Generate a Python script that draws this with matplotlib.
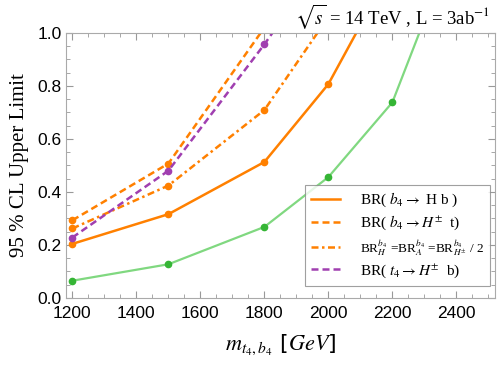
import numpy as np
import matplotlib
matplotlib.use("Agg")
import matplotlib.pyplot as plt
from matplotlib.ticker import MultipleLocator

plt.rcParams['mathtext.fontset'] = 'stix'

# masses (GeV)
mass = [1200, 1500, 1800, 2000, 2200, 2400]

# 95% CL upper limits
lim_green = [0.065, 0.127, 0.268, 0.456, 0.738, 1.36]
lim_hb = [0.204, 0.316, 0.513, 0.807, 1.25]
lim_ht = [0.293, 0.507, 1.02]
lim_equal = [0.262, 0.424, 0.709, 1.06]
lim_t4 = [0.228, 0.48, 0.957, 1.3]

labels = [r"BR( $b_4 \rightarrow$ H b )",
          r"BR( $b_4 \rightarrow H^{\pm}$  t)",
          r"BR$^{b_4}_{H}$ =BR$^{b_4}_{A}$ =BR$^{b_4}_{H^{\pm}}$ / 2",
          r"BR( $t_4 \rightarrow H^{\pm}$  b)"]

orange = '#ff8000'
purple = '#a03fb0'
green_line = '#80d880'
green_pt = '#35b535'

dashed = (0, (2.8, 1.6))
dashdot = (0, (2.8, 1.4, 1.0, 1.4))

fig = plt.figure(figsize=(4.98, 3.66), dpi=100)
ax = fig.add_axes([0.1325, 0.186, 0.861, 0.724])

ax.plot(mass[:len(lim_green)], lim_green, color=green_line, lw=1.6, zorder=2)
ax.plot(mass[:len(lim_green)], lim_green, 'o', color=green_pt, ms=4.5, zorder=3)

ax.plot(mass[:len(lim_hb)], lim_hb, color=orange, lw=1.8, marker='o', ms=4.5, label=labels[0])
ax.plot(mass[:len(lim_ht)], lim_ht, color=orange, lw=1.8, ls=dashed, marker='o', ms=4.5, label=labels[1])
ax.plot(mass[:len(lim_equal)], lim_equal, color=orange, lw=1.8, ls=dashdot, marker='o', ms=4.5, label=labels[2])
ax.plot(mass[:len(lim_t4)], lim_t4, color=purple, lw=1.8, ls=dashed, marker='o', ms=4.5, label=labels[3])

ax.set_xlim(1180, 2520)
ax.set_ylim(0, 1.0)
ax.xaxis.set_major_locator(MultipleLocator(200))
ax.xaxis.set_minor_locator(MultipleLocator(50))
ax.yaxis.set_major_locator(MultipleLocator(0.2))
ax.yaxis.set_minor_locator(MultipleLocator(0.05))
ax.yaxis.set_major_formatter(matplotlib.ticker.FormatStrFormatter('%.1f'))

for s in ax.spines.values():
    s.set_color('#aaaaaa')
ax.tick_params(which='both', direction='in', top=True, right=True, color='#999999')
ax.tick_params(which='major', length=5, labelsize=12.5)
ax.tick_params(axis='x', which='major', pad=6)
ax.tick_params(axis='y', which='major', pad=3)
ax.tick_params(which='minor', length=3)
for t in ax.get_xticklabels() + ax.get_yticklabels():
    t.set_family('Liberation Sans')

ax.set_ylabel("95 % CL Upper Limit", family='Liberation Serif', fontsize=15, labelpad=6)
ax.set_xlabel(r"$m_{t_4,b_4}$ [$GeV$]", fontsize=16, labelpad=8)

fig.text(0.985, 0.955, r"$\sqrt{s}$ = 14 TeV , L = 3ab$^{-1}$", ha='right', va='center',
         family='Liberation Serif', fontsize=13.5)

leg = ax.legend(loc='lower right', bbox_to_anchor=(0.99, 0.045), prop={'family': 'Liberation Serif', 'size': 11},
                fancybox=False, edgecolor='#888888', handlelength=1.9, labelspacing=0.3,
                borderpad=0.4, borderaxespad=0, handletextpad=1.3, markerscale=0)
leg.get_frame().set_linewidth(0.8)
leg.get_texts()[2].set_fontsize(9.5)

fig.savefig("out.png", dpi=100)
